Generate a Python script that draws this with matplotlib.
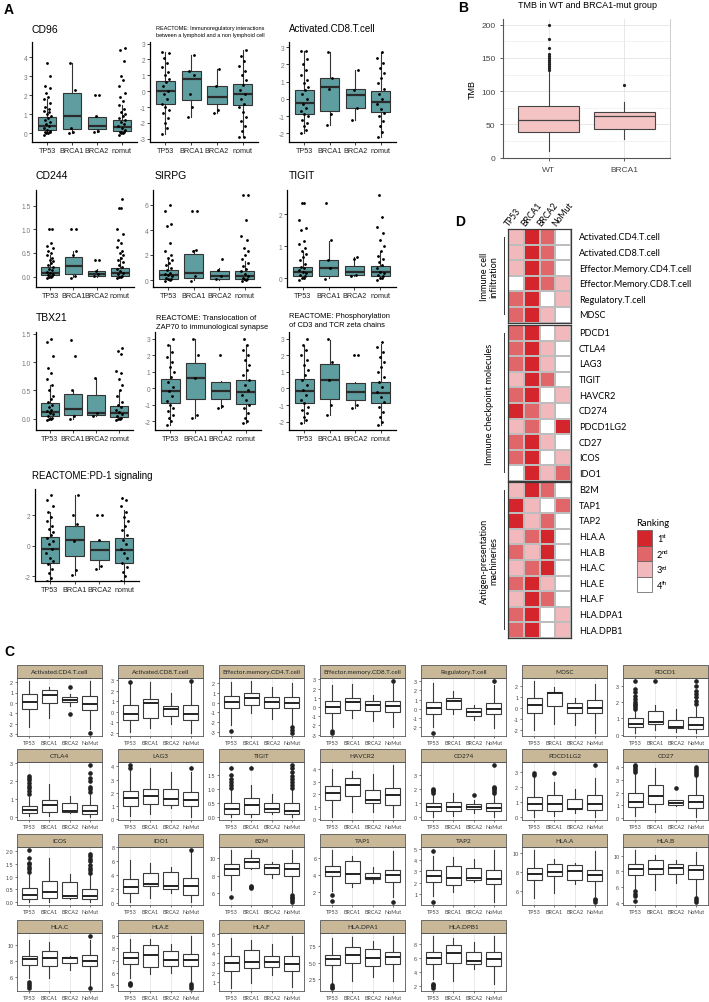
"""
Multi-panel figure: immune signatures by mutation group (A), TMB (B),
facetted boxplots (C) and ranking heatmap (D).
"""
import numpy as np
import matplotlib
matplotlib.use("Agg")
import matplotlib.pyplot as plt
from matplotlib.colors import ListedColormap
from matplotlib.patches import Rectangle
from matplotlib.lines import Line2D
from matplotlib.ticker import MultipleLocator, FormatStrFormatter

plt.rcParams["font.family"] = ["Liberation Sans", "DejaVu Sans"]

# ── Panel A data (lo whisker, q1, median, q3, hi whisker) ──────────────
A_GROUPS = ["TP53", "BRCA1", "BRCA2", "nomut"]

CD96_STATS = [(0, 0.2, 0.4, 0.85, 1.8), (0, 0.25, 0.9, 2.1, 3.7),
              (0.1, 0.25, 0.4, 0.85, 0.9), (0, 0.15, 0.35, 0.7, 1.5)]
CD96_PTS = [[-0.1, 0, 0, 0.05, 0.1, 0.15, 0.2, 0.3, 0.4, 0.5, 0.6, 0.7, 0.8, 0.9, 1.0, 1.1,
             1.2, 1.3, 1.4, 1.6, 1.8, 1.9, 2.1, 2.4, 2.5, 3.0, 3.7],
            [0, 0.05, 0.3, 2.3, 3.7],
            [0.1, 0.15, 0.9, 2.0, 2.0],
            [-0.1, 0, 0, 0.05, 0.1, 0.2, 0.3, 0.4, 0.5, 0.6, 0.7, 0.8, 0.9, 1.0, 1.1, 1.3,
             1.5, 1.7, 1.9, 2.1, 2.5, 2.8, 3.0, 3.8, 4.4, 4.5]]

IMMREG_STATS = [(-2.7, -0.8, 0, 0.65, 2.5), (-1.6, -0.55, 0.75, 1.3, 2.3),
                (-1.4, -0.8, -0.35, 0.35, 1.4), (-2.9, -0.85, -0.2, 0.45, 2.6)]
IMMREG_PTS = [[-2.7, -2.3, -2.0, -1.7, -1.4, -1.2, -1.0, -0.8, -0.5, -0.2, 0, 0.3, 0.6, 0.8,
               1.0, 1.2, 1.5, 1.8, 2.1, 2.4, 2.5],
              [-1.6, -1.0, -0.2, 1.0, 1.3, 2.3],
              [-1.4, -1.2, 0.3, 1.4],
              [-2.9, -2.9, -2.5, -2.2, -1.9, -1.6, -1.3, -1.0, -0.8, -0.5, -0.2, 0.1, 0.4, 0.7,
               1.0, 1.3, 1.6, 1.9, 2.2, 2.6]]

ACTCD8_STATS = [(-2.0, -0.85, -0.25, 0.5, 2.8), (-1.5, -0.7, 0.7, 1.2, 2.7),
                (-1.2, -0.5, 0.2, 0.55, 1.7), (-2.2, -0.75, -0.2, 0.45, 2.7)]
ACTCD8_PTS = [[-2.0, -1.8, -1.6, -1.4, -1.2, -1.0, -0.9, -0.7, -0.5, -0.3, 0, 0.3, 0.5, 0.7,
               0.9, 1.1, 1.4, 1.7, 2.0, 2.3, 2.8, 2.8],
              [-1.5, -0.9, 0.6, 1.2, 2.7],
              [-1.2, -0.5, 0.5, 1.7],
              [-2.2, -1.9, -1.6, -1.3, -1.0, -0.8, -0.6, -0.3, 0, 0.3, 0.6, 0.9, 1.2, 1.5, 1.8,
               2.1, 2.4, 2.7]]

CD244_STATS = [(0, 0.03, 0.08, 0.2, 0.45), (0, 0.05, 0.23, 0.42, 0.55),
               (0, 0.02, 0.05, 0.12, 0.15), (0, 0.02, 0.08, 0.18, 0.42)]
CD244_PTS = [[-0.02, 0, 0, 0.02, 0.04, 0.06, 0.08, 0.1, 0.13, 0.16, 0.2, 0.24, 0.28, 0.32,
              0.36, 0.4, 0.45, 0.5, 0.55, 0.6, 0.65, 0.72, 1.0, 1.0],
             [-0.02, 0.02, 0.45, 0.55, 1.0, 1.0],
             [0.02, 0.05, 0.12, 0.35, 0.35],
             [-0.02, 0, 0, 0.02, 0.05, 0.08, 0.11, 0.15, 0.2, 0.25, 0.3, 0.35, 0.4, 0.45, 0.5,
              0.55, 0.62, 0.7, 0.78, 0.9, 1.0, 1.45, 1.45, 1.65]]

SIRPG_STATS = [(0, 0.1, 0.4, 0.8, 1.8), (0, 0.2, 0.55, 2.05, 2.4),
               (0, 0.1, 0.35, 0.7, 1.0), (0, 0.1, 0.35, 0.7, 1.5)]
SIRPG_PTS = [[-0.1, 0, 0.05, 0.1, 0.2, 0.3, 0.4, 0.5, 0.6, 0.8, 1.0, 1.2, 1.4, 1.6, 1.8, 2.0,
              2.3, 3.0, 4.3, 4.5, 5.5, 6.0],
             [-0.1, 0.3, 2.3, 2.4, 5.5, 5.5],
             [0.1, 0.3, 0.8, 1.7],
             [-0.1, 0, 0.05, 0.1, 0.2, 0.3, 0.5, 0.7, 0.9, 1.1, 1.4, 1.7, 2.0, 2.3, 2.6, 3.2,
              3.5, 4.8, 6.8, 6.8]]

TIGIT_STATS = [(0, 0.05, 0.18, 0.35, 0.8), (0, 0.05, 0.3, 0.55, 1.15),
               (0.05, 0.1, 0.18, 0.38, 0.65), (0, 0.05, 0.18, 0.38, 0.8)]
TIGIT_PTS = [[-0.05, 0, 0, 0.05, 0.1, 0.15, 0.2, 0.25, 0.3, 0.35, 0.45, 0.55, 0.65, 0.75, 0.85,
              0.95, 1.05, 1.15, 1.5, 1.55, 1.8, 2.35, 2.35],
             [-0.02, 0.3, 0.55, 1.2, 2.35],
             [0.05, 0.1, 0.6, 0.65],
             [-0.05, 0, 0, 0.05, 0.1, 0.15, 0.2, 0.3, 0.4, 0.5, 0.6, 0.7, 0.85, 1.0, 1.2, 1.4,
              1.6, 1.9, 2.6]]

TBX21_STATS = [(0, 0.04, 0.12, 0.28, 0.6), (0, 0.07, 0.17, 0.44, 0.5),
               (0.05, 0.06, 0.1, 0.42, 0.72), (0, 0.03, 0.1, 0.23, 0.5)]
TBX21_PTS = [[-0.02, 0, 0, 0.02, 0.05, 0.08, 0.1, 0.13, 0.16, 0.2, 0.25, 0.3, 0.35, 0.4, 0.5,
              0.6, 0.7, 0.8, 0.9, 1.1, 1.35, 1.4],
             [0, 0.05, 0.5, 1.1, 1.38],
             [0.05, 0.1, 0.72],
             [-0.02, 0, 0, 0.02, 0.05, 0.08, 0.12, 0.16, 0.2, 0.25, 0.3, 0.4, 0.5, 0.6, 0.7,
              0.8, 0.85, 1.15, 1.2, 1.25]]

ZAP70_STATS = [(-2.2, -0.9, -0.15, 0.55, 2.6), (-1.8, -0.65, 0.6, 1.5, 3.0),
               (-1.2, -0.65, -0.15, 0.4, 0.45), (-2.1, -0.95, -0.25, 0.5, 2.6)]
ZAP70_PTS = [[-2.2, -2.0, -1.8, -1.6, -1.4, -1.2, -1.0, -0.8, -0.5, -0.2, 0.1, 0.4, 0.7, 1.0,
              1.3, 1.6, 1.9, 2.2, 2.6, 3.0],
             [-1.8, -1.6, 0.6, 2.0, 3.0],
             [-1.2, -1.1, 2.0],
             [-2.1, -2.0, -1.8, -1.5, -1.2, -1.0, -0.7, -0.4, -0.1, 0.2, 0.5, 0.8, 1.1, 1.4,
              1.7, 2.0, 2.3, 2.6, 3.0]]

PHOS_STATS = [(-2.1, -0.85, -0.15, 0.6, 2.6), (-1.6, -0.65, 0.5, 1.5, 2.9),
              (-1.2, -0.7, -0.2, 0.35, 0.4), (-2.2, -0.9, -0.3, 0.4, 2.7)]
PHOS_PTS = [[-2.1, -1.9, -1.7, -1.5, -1.3, -1.1, -0.9, -0.7, -0.4, -0.1, 0.2, 0.5, 0.8, 1.1,
             1.4, 1.7, 2.0, 2.3, 2.6, 3.0],
            [-1.6, -1.0, 0.5, 1.6, 3.0],
            [-1.2, -1.0, 2.0, 2.0],
            [-2.2, -2.0, -1.7, -1.4, -1.1, -0.8, -0.5, -0.2, 0.1, 0.4, 0.7, 1.0, 1.3, 1.6, 1.9,
             2.2, 2.5, 2.8]]

PD1_STATS = [(-2.3, -1.1, -0.2, 0.55, 2.2), (-1.9, -0.7, 0.4, 1.3, 3.3),
             (-1.5, -0.9, -0.3, 0.3, 0.4), (-2.3, -1.1, -0.3, 0.5, 2.3)]
PD1_PTS = [[-2.3, -2.1, -1.8, -1.5, -1.2, -1.0, -0.8, -0.5, -0.2, 0.1, 0.3, 0.5, 0.7, 0.9, 1.1,
            1.3, 1.6, 1.9, 2.2, 2.6, 3.0, 3.3],
           [-1.9, -1.6, 0.3, 1.4, 2.0, 3.3],
           [-1.5, -1.3, 0.4, 2.0, 2.0],
           [-2.3, -2.0, -1.7, -1.4, -1.1, -0.8, -0.5, -0.2, 0.1, 0.4, 0.7, 1.0, 1.3, 1.6, 1.9,
            2.2, 2.6, 3.0, 3.1]]

A_TITLES = ["CD96",
            "REACTOME: Immunoregulatory interactions\nbetween a lymphoid and a non lymphoid cell",
            "Activated.CD8.T.cell", "CD244", "SIRPG", "TIGIT", "TBX21",
            "REACTOME: Translocation of\nZAP70 to immunological synapse",
            "REACTOME: Phosphorylation\nof CD3 and TCR zeta chains",
            "REACTOME:PD-1 signaling"]

# ── Panel B data ──────────────────────────────────────────────────────
B_GROUPS = ["WT", "BRCA1"]
B_STATS = [(10, 38, 56, 77, 130), (28, 43, 62, 69, 83)]
B_OUT = [[132, 135, 138, 141, 144, 147, 150, 153, 156, 165, 178, 200], [110]]

# ── Panel C data (one row per facet: TP53, BRCA1, BRCA2, NoMut) ────────
C_GROUPS = ["TP53", "BRCA1", "BRCA2", "NoMut"]
C_NAMES = ["Activated.CD4.T.cell", "Activated.CD8.T.cell", "Effector.memory.CD4.T.cell",
           "Effector.memory.CD8.T.cell", "Regulatory.T.cell", "MDSC", "PDCD1",
           "CTLA4", "LAG3", "TIGIT", "HAVCR2", "CD274", "PDCD1LG2", "CD27",
           "ICOS", "IDO1", "B2M", "TAP1", "TAP2", "HLA.A", "HLA.B",
           "HLA.C", "HLA.E", "HLA.F", "HLA.DPA1", "HLA.DPB1"]
C_WLO = [[-2.3, -1.5, -0.3, -2.5], [-1.9, -1.5, -1.2, -2.0], [-2.3, -1.1, -1.7, -2.3],
         [-2.3, -1.2, -1.5, -2.2], [-2.0, -0.6, -1.2, -2.1], [-2.0, -1.5, -1.6, -2.3],
         [0.1, 0.3, 0.15, 0.1], [0.05, 0.05, 0.2, 0.0], [0.2, 0.4, 0.8, 0.15],
         [0.0, 0.0, 0.12, 0.0], [0.2, 0.6, 0.6, 0.2], [0.0, 0.05, 0.3, 0.0],
         [0.0, 0.05, 0.25, 0.0], [0.2, 0.5, 0.95, 0.1], [0.0, 0.0, 0.1, 0.0],
         [0.1, 0.6, 1.4, 0.1], [6.4, 8.8, 7.7, 6.1], [2.2, 2.6, 3.1, 1.5],
         [0.8, 1.2, 2.1, 0.3], [5.3, 5.8, 6.8, 5.5], [5.8, 5.6, 6.6, 4.9],
         [5.8, 5.9, 6.9, 4.9], [5.6, 5.9, 6.0, 5.3], [0.4, 0.9, 1.7, 0.5],
         [2.0, 2.3, 2.8, 2.3], [3.0, 2.8, 4.5, 2.4]]
C_Q1 = [[-0.55, 0.0, 0.05, -0.7], [-0.75, -0.6, -0.4, -0.75], [-0.6, -0.2, -0.55, -0.6],
        [-0.6, -0.3, -0.4, -0.5], [-0.6, -0.05, -0.8, -0.6], [-0.5, 0.1, -0.5, -0.5],
        [0.45, 0.65, 0.4, 0.35], [0.2, 0.25, 0.25, 0.15], [1.0, 1.1, 1.05, 1.0],
        [0.12, 0.12, 0.18, 0.1], [1.5, 1.85, 1.3, 1.15], [0.45, 0.45, 0.55, 0.4],
        [0.45, 0.4, 0.5, 0.45], [0.9, 1.1, 1.0, 0.8], [0.1, 0.15, 0.15, 0.1],
        [1.4, 2.45, 1.9, 1.1], [8.1, 8.85, 8.2, 8.0], [3.85, 3.1, 3.55, 3.2],
        [2.1, 1.8, 2.25, 1.85], [7.2, 7.6, 7.2, 7.1], [7.6, 7.7, 7.7, 7.1],
        [7.5, 7.3, 7.7, 7.3], [6.7, 6.5, 6.6, 6.6], [2.2, 2.5, 2.6, 2.2],
        [4.6, 4.9, 4.5, 4.8], [5.1, 5.3, 5.1, 4.9]]
C_MED = [[0.1, 0.75, 0.25, -0.1], [-0.2, 0.8, 0.25, -0.2], [0.1, 0.5, 0.1, -0.05],
         [-0.05, 0.5, 0.2, 0.1], [0.05, 0.9, -0.35, -0.05], [0.2, 1.35, -0.05, 0.0],
         [0.65, 0.8, 0.45, 0.6], [0.38, 0.65, 0.35, 0.35], [1.6, 1.75, 1.5, 1.45],
         [0.28, 0.43, 0.28, 0.22], [2.1, 2.7, 1.5, 1.95], [0.7, 0.7, 0.7, 0.62],
         [0.85, 0.85, 0.55, 0.85], [1.25, 1.75, 1.2, 1.25], [0.28, 0.38, 0.22, 0.25],
         [2.3, 2.75, 2.4, 2.4], [8.8, 9.6, 8.9, 8.75], [4.35, 4.15, 3.7, 4.0],
         [2.6, 2.4, 2.45, 2.35], [7.85, 8.0, 8.1, 7.7], [8.3, 8.25, 8.5, 8.2],
         [8.2, 8.35, 8.3, 8.0], [7.2, 7.5, 7.1, 7.05], [3.0, 3.15, 3.15, 2.85],
         [5.6, 6.2, 5.7, 5.8], [6.0, 6.7, 5.6, 5.9]]
C_Q3 = [[0.85, 1.2, 0.6, 0.65], [0.6, 1.25, 0.55, 0.65], [0.7, 1.0, 0.6, 0.6],
        [0.6, 1.0, 0.6, 0.6], [0.75, 1.2, 0.1, 0.6], [0.85, 1.45, 0.4, 0.65],
        [1.0, 1.45, 0.9, 1.1], [0.6, 0.95, 0.8, 0.65], [2.15, 2.3, 2.25, 2.05],
        [0.48, 0.68, 0.5, 0.48], [2.65, 3.3, 2.3, 2.45], [1.0, 1.1, 0.9, 1.0],
        [1.35, 1.45, 1.2, 1.45], [1.95, 2.6, 1.45, 1.8], [0.55, 0.83, 0.8, 0.5],
        [3.4, 4.3, 4.4, 3.6], [9.35, 9.95, 9.35, 9.4], [5.1, 5.6, 4.3, 4.65],
        [3.15, 3.45, 3.3, 3.15], [8.45, 8.9, 8.7, 8.25], [8.95, 9.45, 8.9, 8.8],
        [8.6, 9.2, 8.5, 8.75], [7.7, 8.25, 7.8, 7.55], [3.7, 4.35, 3.7, 3.7],
        [6.1, 7.4, 7.1, 6.6], [6.8, 7.8, 6.8, 6.8]]
C_WHI = [[2.1, 1.5, 0.9, 2.1], [2.7, 2.8, 1.8, 2.7], [2.1, 2.2, 1.6, 2.0],
         [2.4, 2.5, 1.3, 2.5], [2.8, 1.9, 0.4, 2.6], [2.4, 1.9, 0.9, 2.1],
         [1.5, 1.8, 1.6, 1.7], [1.1, 1.85, 1.15, 1.25], [3.8, 3.85, 3.55, 3.6],
         [1.0, 1.15, 0.8, 1.0], [4.0, 3.8, 3.6, 4.3], [1.6, 1.75, 1.2, 1.6],
         [2.7, 2.3, 1.85, 2.6], [3.5, 3.9, 1.45, 3.2], [1.1, 1.75, 1.1, 1.05],
         [6.2, 5.8, 5.1, 7.3], [10.9, 10.9, 9.6, 10.9], [6.9, 6.2, 4.9, 6.8],
         [4.4, 4.3, 4.15, 4.9], [10.3, 9.4, 9.0, 10.2], [10.7, 10.1, 9.4, 10.5],
         [10.6, 10.4, 8.55, 10.6], [8.8, 8.8, 8.4, 9.0], [5.6, 5.4, 5.0, 5.8],
         [8.7, 8.9, 8.2, 9.0], [9.1, 8.9, 8.2, 9.1]]
C_OUT = [[[], [], [1.5, -1.1], [-2.9]],
         [[2.85], [], [], [2.9]],
         [[-2.95], [], [], [-2.5, -2.8, -3.1]],
         [[-2.6, -2.8], [], [], [2.8]],
         [[-2.6], [], [], [3.0]],
         [[], [], [], []],
         [[1.6, 1.7, 1.8, 1.9, 2.0, 2.2, 2.4, 2.6, 2.8, 3.3], [3.3], [],
          [1.9, 2.1, 2.3, 2.5, 2.7, 3.0, 3.3]],
         [[1.3, 1.45, 1.6, 1.75, 1.9, 2.05, 2.2, 2.3], [], [],
          [1.4, 1.55, 1.7, 2.0, 2.2, 2.45, 2.9]],
         [[3.9, 4.1], [], [], [3.9]],
         [[1.05, 1.15, 1.25, 1.35, 1.5, 1.75], [1.75], [],
          [1.05, 1.15, 1.25, 1.35, 1.45, 1.6, 1.75, 1.85]],
         [[], [], [], []],
         [[1.75, 1.85, 1.95, 2.05], [], [1.55], [1.75, 1.9, 2.0, 2.1, 2.2, 3.75]],
         [[2.8, 2.95], [2.95], [], [3.45]],
         [[3.6, 3.75, 3.9, 4.05, 4.15], [], [2.35], [3.4, 3.55, 3.7, 3.85, 4.0]],
         [[1.2, 1.3, 1.4, 1.5, 1.55, 1.75, 2.05], [], [],
          [1.15, 1.25, 1.35, 1.45, 1.6, 1.7, 1.8, 1.9]],
         [[], [], [], [7.6]],
         [[5.6], [6.6, 6.7, 6.8], [], [5.0, 5.2, 5.4, 5.6, 5.8]],
         [[1.7, 1.0], [], [], [0.9]],
         [[4.85, 0.3], [], [], []],
         [[], [], [], [4.9, 5.05, 5.2]],
         [[5.5, 5.2, 4.9, 4.2], [], [], [4.6, 4.35, 4.15]],
         [[5.4, 5.1, 4.8, 4.6], [], [], [4.6, 11.1]],
         [[5.0, 5.1, 5.2], [], [], [4.8, 4.95, 5.1]],
         [[], [], [], []],
         [[1.2, 1.4, 1.6], [], [], []],
         [[1.8, 2.0, 2.2, 2.4], [], [], []]]
C_STEP = [1, 1, 1, 1, 1, 1, 1, 1, 1, 0.5, 1, 1, 1, 1,
          0.5, 2, 2, 2, 1, 2, 2, 2, 1, 1, 2.5, 2]

# ── Panel D data (rank 1..4 for TP53, BRCA1, BRCA2, NoMut) ─────────────
D_COLS = ["TP53", "BRCA1", "BRCA2", "NoMut"]
D_ROWS_IMM = ["Activated.CD4.T.cell", "Activated.CD8.T.cell", "Effector.Memory.CD4.T.cell",
              "Effector.Memory.CD8.T.cell", "Regulatory.T.cell", "MDSC"]
D_RANK_IMM = [[3, 1, 2, 4], [3, 1, 2, 4], [3, 1, 2, 4], [4, 1, 2, 3], [2, 1, 4, 3], [2, 1, 3, 4]]
D_ROWS_CHK = ["PDCD1", "CTLA4", "LAG3", "TIGIT", "HAVCR2", "CD274", "PDCD1LG2",
              "CD27", "ICOS", "IDO1"]
D_RANK_CHK = [[2, 1, 4, 3], [2, 1, 3, 4], [2, 1, 3, 4], [3, 1, 2, 4], [2, 1, 4, 3],
              [1, 2, 3, 4], [3, 2, 4, 1], [2, 1, 3, 4], [2, 1, 4, 3], [4, 1, 3, 2]]
D_ROWS_ANT = ["B2M", "TAP1", "TAP2", "HLA.A", "HLA.B", "HLA.C", "HLA.E", "HLA.F",
              "HLA.DPA1", "HLA.DPB1"]
D_RANK_ANT = [[3, 1, 2, 4], [1, 3, 4, 2], [1, 3, 2, 4], [3, 2, 1, 4], [2, 3, 1, 4],
              [3, 2, 1, 4], [2, 1, 3, 4], [3, 1, 2, 4], [2, 1, 4, 3], [2, 1, 4, 3]]
D_LEGEND = [("1", "st"), ("2", "nd"), ("3", "rd"), ("4", "th")]

# ── Styling ──────────────────────────────────────────────────────────
TEAL = "#5F9EA0"
PINK = "#F4C4C4"
STRIP = "#C8B897"
RANK_COLORS = ["#D3252B", "#E0666A", "#F2B9BC", "#FFFFFF"]
JIT = np.array([-0.12, 0.05, -0.03, 0.10, -0.08, 0.13, 0.0, -0.14, 0.07, -0.05,
                0.11, -0.10, 0.03, 0.14, -0.02, 0.09, -0.13, 0.06, -0.07, 0.12])

W, H = 709, 1003
fig = plt.figure(figsize=(W / 100, H / 100), dpi=100)


def px_ax(x0, y0, x1, y1):
    return fig.add_axes([x0 / W, 1 - y1 / H, (x1 - x0) / W, (y1 - y0) / H])


def px_text(x, y, s, **kw):
    return fig.text(x / W, 1 - y / H, s, **kw)


def to_bxp(stats, fliers=None):
    return [dict(whislo=s[0], q1=s[1], med=s[2], q3=s[3], whishi=s[4],
                 fliers=(fliers[i] if fliers else [])) for i, s in enumerate(stats)]


# ═════════════════════ PANEL A ═════════════════════
A_PANELS = [(CD96_STATS, CD96_PTS), (IMMREG_STATS, IMMREG_PTS), (ACTCD8_STATS, ACTCD8_PTS),
            (CD244_STATS, CD244_PTS), (SIRPG_STATS, SIRPG_PTS), (TIGIT_STATS, TIGIT_PTS),
            (TBX21_STATS, TBX21_PTS), (ZAP70_STATS, ZAP70_PTS), (PHOS_STATS, PHOS_PTS),
            (PD1_STATS, PD1_PTS)]
A_BOX = [(32, 43, 137, 143), (150, 43, 258, 143), (289, 43, 396, 143),
         (36, 191, 134, 288), (153, 191, 260, 288), (287, 191, 396, 288),
         (36, 333, 133, 431), (155, 333, 261, 431), (289, 333, 396, 431),
         (35, 490, 139, 582)]
A_YLIM = [(-0.45, 4.8), (-3.2, 3.1), (-2.5, 3.3), (-0.22, 1.83), (-0.56, 7.2),
          (-0.28, 2.75), (-0.2, 1.53), (-2.53, 3.4), (-2.5, 3.4), (-2.3, 3.7)]
A_TICK = [1, 1, 1, 0.5, 2, 1, 0.5, 1, 1, 2]
A_TPOS = [(31, 30, 7.5), (156, 32, 4.0), (289, 29, 7.0), (36, 176, 7.5), (155, 176, 7.5),
          (289, 176, 7.5), (36, 318, 7.5), (156, 323, 5.4), (289, 321, 5.4), (32, 476, 7.0)]

for i, (stats, pts) in enumerate(A_PANELS):
    ax = px_ax(*A_BOX[i])
    ax.bxp(to_bxp(stats), positions=[1, 2, 3, 4], widths=0.75, patch_artist=True,
           showfliers=False, showcaps=False,
           boxprops=dict(facecolor=TEAL, edgecolor="#333333", linewidth=0.8),
           medianprops=dict(color="#2a2a2a", linewidth=1.6),
           whiskerprops=dict(color="#333333", linewidth=0.8))
    for g, vals in enumerate(pts):
        xs = g + 1 + JIT[np.arange(len(vals)) % len(JIT)]
        ax.plot(xs, vals, "o", ms=1.0, color="black", zorder=4)
    ax.set_xlim(0.4, 4.6)
    ax.set_ylim(*A_YLIM[i])
    ax.yaxis.set_major_locator(MultipleLocator(A_TICK[i]))
    ax.yaxis.set_major_formatter(FormatStrFormatter("%.1f" if A_TICK[i] < 1 else "%d"))
    ax.set_xticks([1, 2, 3, 4])
    ax.set_xticklabels(A_GROUPS)
    for s in ["top", "right"]:
        ax.spines[s].set_visible(False)
    for s in ["left", "bottom"]:
        ax.spines[s].set_linewidth(0.9)
    ax.tick_params(axis="x", labelsize=5.2, length=2, width=0.6, pad=1.5, colors="#222222")
    ax.tick_params(axis="y", labelsize=4.8, length=2, width=0.6, pad=1.5,
                   colors="#222222", labelcolor="#777777")
    tx, ty, fs = A_TPOS[i]
    px_text(tx, ty, A_TITLES[i], fontsize=fs, ha="left", va="center", linespacing=1.3)

px_text(4, 10, "A", fontsize=10, fontweight="bold", ha="left", va="center")

# ═════════════════════ PANEL B ═════════════════════
axb = px_ax(503, 20, 670, 159)
axb.bxp(to_bxp(B_STATS, B_OUT), positions=[1, 2], widths=0.8, patch_artist=True,
        showcaps=False,
        boxprops=dict(facecolor=PINK, edgecolor="#444444", linewidth=0.8),
        medianprops=dict(color="#444444", linewidth=0.9),
        whiskerprops=dict(color="#444444", linewidth=0.8),
        flierprops=dict(marker="o", markersize=1.3, markerfacecolor="#222222",
                        markeredgecolor="#222222"))
axb.set_xlim(0.4, 2.6)
axb.set_ylim(-0.5, 208.5)
axb.yaxis.set_major_locator(MultipleLocator(50))
axb.yaxis.set_minor_locator(MultipleLocator(25))
axb.grid(True, which="major", color="#e4e4e4", linewidth=0.6)
axb.grid(True, which="minor", axis="y", color="#efefef", linewidth=0.5)
axb.set_axisbelow(True)
axb.set_xticks([1, 2])
axb.set_xticklabels(B_GROUPS)
axb.tick_params(labelsize=6, length=2, width=0.6, colors="#444444", labelcolor="#444444")
axb.tick_params(which="minor", length=0)
for s in ["left", "bottom"]:
    axb.spines[s].set_color("#555555")
    axb.spines[s].set_linewidth(0.8)
axb.spines["right"].set_color("#bbbbbb")
axb.spines["right"].set_linewidth(0.5)
axb.spines["top"].set_visible(False)
axb.set_ylabel("TMB", fontsize=6.5, labelpad=3)
px_text(587, 6, "TMB in WT and BRCA1-mut group", fontsize=6.5, ha="center", va="center")
px_text(458, 8, "B", fontsize=10, fontweight="bold", ha="left", va="center")

# ═════════════════════ PANEL C ═════════════════════
C_ROW_TOP = [666, 750, 835, 921]
for k, name in enumerate(C_NAMES):
    r, c = divmod(k, 7)
    x0 = 17 + 101 * c
    y0 = C_ROW_TOP[r] + 13
    ax = px_ax(x0, y0, x0 + 85, y0 + 58)
    stats = [(C_WLO[k][g], C_Q1[k][g], C_MED[k][g], C_Q3[k][g], C_WHI[k][g]) for g in range(4)]
    for xg in range(1, 5):
        ax.axvline(xg, color="#e2e2e2", linewidth=0.5, zorder=0)
    ax.bxp(to_bxp(stats, C_OUT[k]), positions=[1, 2, 3, 4], widths=0.75, patch_artist=True,
           showcaps=False,
           boxprops=dict(facecolor="white", edgecolor="#3a3a3a", linewidth=0.8),
           medianprops=dict(color="#222222", linewidth=1.4),
           whiskerprops=dict(color="#3a3a3a", linewidth=0.8),
           flierprops=dict(marker="o", markersize=2.3, markerfacecolor="#222222",
                           markeredgecolor="#222222"))
    vals = [v for row in stats for v in row] + [v for grp in C_OUT[k] for v in grp]
    lo, hi = min(vals), max(vals)
    pad = (hi - lo) * 0.06
    ax.set_ylim(lo - pad, hi + pad)
    ax.set_xlim(0.4, 4.6)
    ax.yaxis.set_major_locator(MultipleLocator(C_STEP[k]))
    ax.yaxis.set_major_formatter(FormatStrFormatter("%.1f" if C_STEP[k] % 1 else "%d"))
    ax.set_xticks([1, 2, 3, 4])
    ax.set_xticklabels(C_GROUPS, family="Lato")
    ax.tick_params(labelsize=3.9, length=1.5, width=0.5, pad=1.2, colors="#444444")
    for s in ax.spines.values():
        s.set_color("#555555")
        s.set_linewidth(0.6)
    ax.add_patch(Rectangle((0, 1), 1, 13 / 58, transform=ax.transAxes, clip_on=False,
                           facecolor=STRIP, edgecolor="#555555", linewidth=0.6))
    ax.text(0.5, 1 + 6.5 / 58, name, transform=ax.transAxes, ha="center", va="center",
            fontsize=4.6, family="Lato", color="#222222")

px_text(4, 652, "C", fontsize=10, fontweight="bold", ha="left", va="center")

# ═════════════════════ PANEL D ═════════════════════
cmap = ListedColormap(RANK_COLORS)
HX0, HX1 = 508, 571
ROW_H = 15.6
D_BLOCKS = [(D_ROWS_IMM, D_RANK_IMM, 230, "Immune cell\ninfiltration"),
            (D_ROWS_CHK, D_RANK_CHK, 326, "Immune checkpoint molecules"),
            (D_ROWS_ANT, D_RANK_ANT, 483, "Antigen-presentation\nmachineries")]
for rows, ranks, ytop, label in D_BLOCKS:
    ybot = ytop + ROW_H * len(rows)
    ax = px_ax(HX0, ytop, HX1, ybot)
    ax.pcolormesh(np.array(ranks), cmap=cmap, vmin=0.5, vmax=4.5,
                  edgecolors="#bdbdbd", linewidth=0.3)
    ax.set_xlim(0, 4)
    ax.set_ylim(len(rows), 0)
    ax.set_xticks([])
    ax.set_yticks([])
    for s in ax.spines.values():
        s.set_color("#3a3a3a")
        s.set_linewidth(0.9)
    for j, rname in enumerate(rows):
        px_text(HX1 + 8, ytop + ROW_H * (j + 0.5), rname, fontsize=6.6, family="Lato",
                ha="left", va="center")
    # group bracket line and label
    fig.add_artist(Line2D([504 / W, 504 / W], [1 - (ytop + 8) / H, 1 - (ybot - 9) / H],
                          color="#333333", linewidth=0.7))
    px_text(489, (ytop + ybot) / 2, label, fontsize=6.6, family="Lato", rotation=90,
            ha="center", va="center", linespacing=1.1, multialignment="center")

for i, cname in enumerate(D_COLS):
    cx = HX0 + (HX1 - HX0) / 4 * (i + 0.5)
    px_text(cx - 5, 228, cname, fontsize=6.2, family="Lato", rotation=52,
            rotation_mode="anchor", ha="left", va="bottom")

# legend
px_text(636, 524, "Ranking", fontsize=6.8, family="Lato", ha="left", va="center")
for i, (num, suf) in enumerate(D_LEGEND):
    y0 = 531 + 15.5 * i
    fig.add_artist(Rectangle((637 / W, 1 - (y0 + 15.5) / H), 15 / W, 15.5 / H,
                             facecolor=RANK_COLORS[i], edgecolor="#555555", linewidth=0.5,
                             transform=fig.transFigure))
    px_text(657, y0 + 9, num, fontsize=6.6, family="Lato", ha="left", va="center")
    px_text(661.5, y0 + 6, suf, fontsize=4.2, family="Lato", ha="left", va="center")

px_text(455, 222, "D", fontsize=10, fontweight="bold", ha="left", va="center")

fig.savefig("out.png", dpi=100)
